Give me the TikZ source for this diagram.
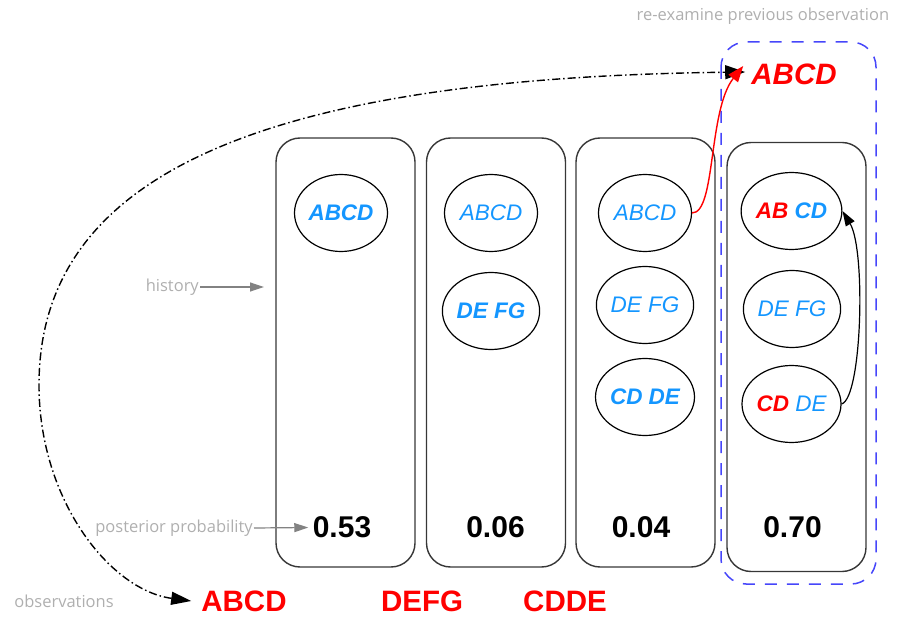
\documentclass[tikz,border=0pt]{standalone}
\usepackage{fontspec}
\setmainfont{Liberation Sans}
\newfontfamily\notefont{Open Sans}
\usetikzlibrary{arrows.meta,shapes.geometric}

\definecolor{obsred}{RGB}{255,0,0}
\definecolor{hypblue}{RGB}{20,150,255}
\definecolor{notegray}{RGB}{175,175,175}
\definecolor{notearrow}{RGB}{130,130,130}
\definecolor{boxgray}{RGB}{55,55,55}
\definecolor{dashblue}{RGB}{70,70,250}

\tikzset{
  colbox/.style={draw=boxgray, line width=1.4pt, rounded corners=24pt,
    minimum width=139pt, minimum height=429pt, inner sep=0pt},
  hyp/.style={draw=black, ellipse, line width=1.2pt, minimum width=93pt,
    minimum height=77pt, inner sep=0pt, text=hypblue,
    font=\fontsize{22.5}{24}\selectfont\itshape},
  prob/.style={font=\fontsize{30}{31}\selectfont\bfseries},
  obs/.style={inner sep=0pt, text=obsred, font=\fontsize{29.5}{31}\selectfont\bfseries},
  note/.style={inner sep=1pt, text=notegray, font=\notefont\fontsize{16.5}{18}\selectfont},
  notearr/.style={draw=notearrow, line width=1.2pt, -{Triangle[length=14pt,width=9pt]}},
  dashdot/.style={line width=1.4pt, dash pattern=on 8pt off 3pt on 1.5pt off 3pt},
}

\begin{document}
\begin{tikzpicture}[x=1pt,y=-1pt]
\useasboundingbox (0,0) rectangle (899,617);

% hypothesis columns
\node[colbox] (c1) at (345.5,352.5) {};
\node[colbox] (c2) at (496,352.5) {};
\node[colbox] (c3) at (645.5,352.5) {};
\node[colbox] (c4) at (796.5,357) {};

% highlight around the last column
\draw[dashblue, line width=1.5pt, rounded corners=25pt, dash pattern=on 12pt off 10pt]
  (721,42) rectangle (876,584);

% segment hypotheses
\node[hyp, font=\fontsize{22.5}{24}\selectfont\bfseries\itshape] (e1a) at (341,213) {ABCD};

\node[hyp] (e2a) at (491,213) {ABCD};
\node[hyp, font=\fontsize{22.5}{24}\selectfont\bfseries\itshape] (e2b) at (491,311) {DE FG};

\node[hyp] (e3a) at (645,213) {ABCD};
\node[hyp] (e3b) at (645,305) {DE FG};
\node[hyp, font=\fontsize{22.5}{24}\selectfont\bfseries\itshape] (e3c) at (645,397) {CD DE};

\node[hyp] (e4a) at (791.5,211) {\textbf{\textcolor{obsred}{AB} CD}};
\node[hyp] (e4b) at (792,309) {DE FG};
\node[hyp] (e4c) at (791.5,404) {\textbf{\textcolor{obsred}{CD}} DE};

% posterior probabilities
\node[prob] (p1) at (342,527.5) {0.53};
\node[prob] (p2) at (495.5,527.5) {0.06};
\node[prob] (p3) at (641,527.5) {0.04};
\node[prob] (p4) at (792.5,527.5) {0.70};

% observation sequence
\node[obs] (o1) at (244,601) {ABCD};
\node[obs] (o2) at (422,601) {DEFG};
\node[obs] (o3) at (565,601) {CDDE};
\node[obs, font=\fontsize{29.5}{31}\selectfont\bfseries\itshape] (top) at (794,74) {ABCD};

% annotations
\node[note] (reex) at (763,16) {re-examine previous observation};
\node[note, anchor=east] (hist) at (200,287) {history};
\node[note, anchor=east] (post) at (254,528) {posterior probability};
\node[note] (obsl) at (64,601) {observations};

\coordinate (histend) at (264,287);
\draw[notearr] (hist.east) -- (histend);
\draw[notearr] (post.east) -- ([xshift=-1pt]p1.west);

% observation carried back to the re-examined position
\coordinate (bend) at (39,385);
\draw[dashdot, {Triangle[length=20pt,width=13pt]}-{Triangle[length=20pt,width=14pt]}]
  ([xshift=-10pt]o1.west) .. controls (110,590) and (39,500) .. (bend)
  .. controls (39,180) and (250,78) .. ([xshift=-6pt,yshift=2pt]top.west);

% re-examination link
\draw[obsred, line width=1.4pt, -{Triangle[length=16pt,width=12pt]}]
  (e3a.east) .. controls (716,213) and (708,110) .. ([xshift=-8pt,yshift=8pt]top.west);

% merge link inside the last column
\draw[black, line width=1.2pt, -{Triangle[length=15pt,width=10pt]}]
  (e4c.east) .. controls (862,398) and (866,250) .. (e4a.east);
\end{tikzpicture}
\end{document}
